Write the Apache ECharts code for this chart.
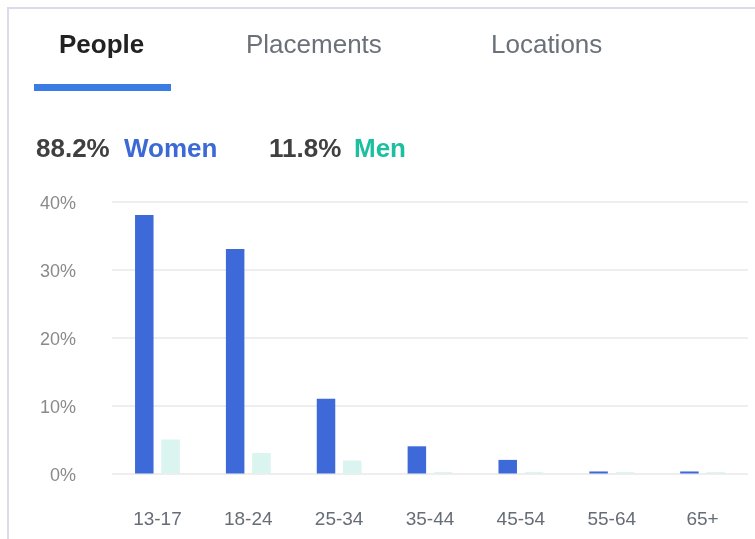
<!DOCTYPE html>
<html>
<head>
<meta charset="utf-8">
<title>Audience by age and gender</title>
<script src="https://cdn.jsdelivr.net/npm/echarts@6/dist/echarts.min.js"></script>
<style>
  html, body { margin: 0; padding: 0; background: #ffffff; }
  #chart { width: 755px; height: 539px; }
</style>
</head>
<body>
<div id="chart"></div>
<script>
// Age groups along the x axis
const ageGroups = ['13-17', '18-24', '25-34', '35-44', '45-54', '55-64', '65+'];
// Share of audience per age group, in percent
const womenShare = [38, 33, 11, 4, 2, 0.3, 0.3];
const menShare = [5, 3, 1.9, 0.2, 0.2, 0.2, 0.2];
// Totals shown in the summary line
const womenTotal = '88.2%';
const menTotal = '11.8%';
// Tabs above the chart
const tabs = ['People', 'Placements', 'Locations'];
// Value axis ticks
const yTicks = [0, 10, 20, 30, 40];

const FONT = '"Liberation Sans", Arial, Helvetica, sans-serif';
const WOMEN_COLOR = '#3d6ad8';
const MEN_COLOR = '#daf4ef';

const chart = echarts.init(document.getElementById('chart'), null, { renderer: 'canvas' });

const tabX = [59, 246, 491];

chart.setOption({
  backgroundColor: '#ffffff',
  animation: false,
  grid: { left: 112, right: 7, top: 201.5, bottom: 65.5, containLabel: false },
  xAxis: {
    type: 'category',
    data: ageGroups,
    axisLine: { show: false },
    axisTick: { show: false },
    axisLabel: {
      margin: 37,
      fontSize: 19,
      color: '#666d76',
      fontFamily: FONT
    }
  },
  yAxis: {
    type: 'value',
    min: yTicks[0],
    max: yTicks[yTicks.length - 1],
    interval: 10,
    axisLine: { show: false },
    axisTick: { show: false },
    splitLine: { lineStyle: { color: '#eeeeee', width: 2 } },
    axisLabel: {
      margin: 36,
      fontSize: 18,
      color: '#8a8a8a',
      fontFamily: FONT,
      verticalAlign: 'top',
      lineHeight: 5,
      formatter: '{value}%'
    }
  },
  series: [
    {
      name: 'Women',
      type: 'bar',
      data: womenShare,
      barWidth: 18.5,
      barGap: '42%',
      itemStyle: { color: WOMEN_COLOR }
    },
    {
      name: 'Men',
      type: 'bar',
      data: menShare,
      barWidth: 18.5,
      itemStyle: { color: MEN_COLOR }
    }
  ],
  graphic: [
    // panel border: left and top edges
    {
      type: 'polyline',
      shape: { points: [[8, 539], [8, 8], [755, 8]] },
      style: { stroke: '#dadae9', lineWidth: 2, fill: null },
      silent: true
    },
    // tabs
    {
      type: 'text', left: tabX[0], top: 33,
      style: { text: tabs[0], font: 'bold 26px ' + FONT, fill: '#222222' }
    },
    {
      type: 'text', left: tabX[1], top: 33,
      style: { text: tabs[1], font: '26px ' + FONT, fill: '#6b7179' }
    },
    {
      type: 'text', left: tabX[2], top: 33,
      style: { text: tabs[2], font: '26px ' + FONT, fill: '#6b7179' }
    },
    // active tab indicator
    {
      type: 'rect',
      shape: { x: 34, y: 84, width: 137, height: 7 },
      style: { fill: '#3a7be4' }
    },
    // summary line
    {
      type: 'text', left: 36, top: 137,
      style: { text: womenTotal, font: 'bold 26px ' + FONT, fill: '#404040' }
    },
    {
      type: 'text', left: 124, top: 137,
      style: { text: 'Women', font: 'bold 26px ' + FONT, fill: '#3c69d6' }
    },
    {
      type: 'text', left: 269, top: 137,
      style: { text: menTotal, font: 'bold 26px ' + FONT, fill: '#404040' }
    },
    {
      type: 'text', left: 354, top: 137,
      style: { text: 'Men', font: 'bold 26px ' + FONT, fill: '#1cbf9f' }
    }
  ]
});
</script>
</body>
</html>
